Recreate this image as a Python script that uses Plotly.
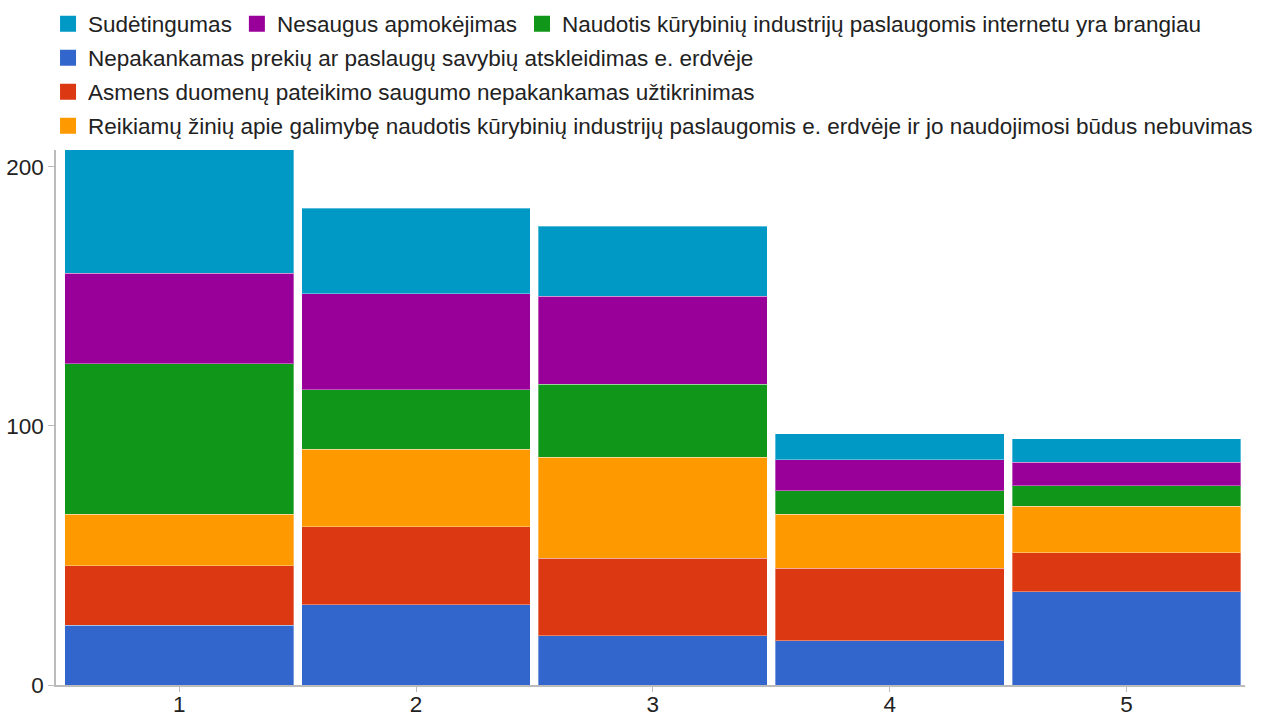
import plotly.graph_objects as go

categories = ["1", "2", "3", "4", "5"]

series_names = [
    "Nepakankamas prekių ar paslaugų savybių atskleidimas e. erdvėje",
    "Asmens duomenų pateikimo saugumo nepakankamas užtikrinimas",
    "Reikiamų žinių apie galimybę naudotis kūrybinių industrijų paslaugomis e. erdvėje ir jo naudojimosi būdus nebuvimas",
    "Naudotis kūrybinių industrijų paslaugomis internetu yra brangiau",
    "Nesaugus apmokėjimas",
    "Sudėtingumas",
]

nepakankamas = [23, 31, 19, 17, 36]
asmens = [23, 30, 30, 28, 15]
reikiamu = [20, 30, 39, 21, 18]
brangiau = [58, 23, 28, 9, 8]
nesaugus = [35, 37, 34, 12, 9]
sudetingumas = [48, 33, 27, 10, 9]

series_values = [nepakankamas, asmens, reikiamu, brangiau, nesaugus, sudetingumas]
colors = ["#3366cc", "#dc3912", "#ff9900", "#109618", "#990099", "#0099c6"]

# legend rows (top to bottom) -> indices into series lists
legend_rows = [[5, 4, 3], [0], [1], [2]]
legend_ids = ["legend", "legend2", "legend3", "legend4"]

FONT = "Liberation Sans, Arial, sans-serif"
FS = 22.5
TXT = "#222222"

fig = go.Figure()
# stacked bars, bottom to top
for name, vals, col in zip(series_names, series_values, colors):
    fig.add_trace(go.Bar(
        x=categories, y=vals, name=name, showlegend=False,
        marker=dict(color=col, line=dict(color="rgba(255,255,255,0.35)", width=1)),
    ))

# legend entries (no data of their own)
for row, lid in zip(legend_rows, legend_ids):
    for idx in row:
        fig.add_trace(go.Scatter(
            x=[None], y=[None], mode="markers", name=series_names[idx],
            marker=dict(symbol="square", size=16, color=colors[idx]),
            legend=lid, showlegend=True,
        ))

plot_top, plot_bottom = 150, 685
plot_h = plot_bottom - plot_top
row_centers = [24, 58, 92, 126]

layout_legends = {}
for lid, cy in zip(legend_ids, row_centers):
    layout_legends[lid] = dict(
        orientation="h", x=-0.0067, xanchor="left",
        y=(plot_bottom - cy) / plot_h, yanchor="middle",
        font=dict(family=FONT, size=FS, color=TXT),
        bgcolor="rgba(0,0,0,0)", itemwidth=30, traceorder="normal",
    )

fig.update_layout(
    barmode="stack",
    bargap=0.034,
    width=1278, height=713,
    margin=dict(l=56, r=33, t=plot_top, b=713 - plot_bottom, autoexpand=False),
    paper_bgcolor="white", plot_bgcolor="white",
    font=dict(family=FONT, size=FS, color=TXT),
    showlegend=True,
    xaxis=dict(
        type="category", range=[-0.52, 4.5], automargin=False,
        showline=True, linecolor="#bbbbbb", linewidth=1.5,
        ticks="outside", ticklen=5, tickcolor="#bbbbbb",
        ticklabelstandoff=-7,
        showgrid=False, tickfont=dict(family=FONT, size=FS, color=TXT),
    ),
    yaxis=dict(
        range=[0, 206.5], automargin=False,
        tickvals=[0, 100, 200],
        showline=True, linecolor="#bbbbbb", linewidth=1.5,
        ticks="outside", ticklen=6, tickcolor="#bbbbbb",
        showgrid=False, zeroline=False, tickfont=dict(family=FONT, size=FS, color=TXT),
    ),
    **layout_legends,
)

fig.write_html("out.html")
